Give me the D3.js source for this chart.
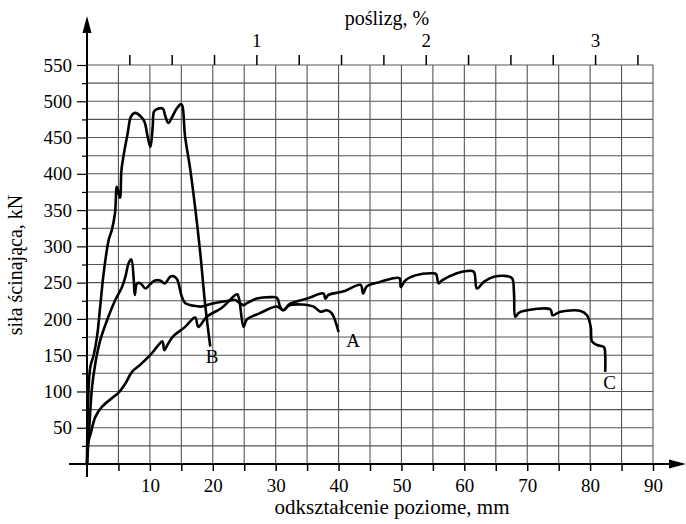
<!DOCTYPE html>
<html>
<head>
<meta charset="utf-8">
<script src="https://cdn.jsdelivr.net/npm/d3@7"></script>
<style>
  body { margin: 0; background: #fff; }
  text { font-family: "Liberation Serif", "Times New Roman", serif; fill: #000; }
</style>
</head>
<body>
<svg id="chart" width="686" height="524"></svg>
<script>
// curves: [odkształcenie mm, siła kN]
const curveA = [
  [0,0],[0.2,30],[0.53,40],[1.33,65],[2.4,79],[4.0,91],[5.0,98],[6.1,111],[7.16,127],
  [8.5,137],[9.8,148],[10.35,153],[11.35,164],[12.0,169],[12.3,157],[12.9,166],[13.7,176],
  [15.6,189],[17.2,202],[17.7,189],[19.05,203],[21.4,215],[23.6,233],[23.9,234],[24.2,227],
  [24.9,189],[25.4,199],[27.5,208],[30.2,217],[31.2,212],[32.3,219],[36,217],[37.1,210],
  [38.1,212],[38.9,208],[40,182]
];
const curveB = [
  [0,0],[0.16,84],[0.53,134],[1.06,150],[1.6,176],[2.1,217],[2.65,263],[3.45,309],[3.93,322],
  [4.46,346],[4.75,382],[5.25,367],[5.5,407],[6.47,456],[7.0,479],[7.64,484],[8.44,480],
  [9.12,472],[9.65,451],[10.08,437],[10.45,465],[10.66,486],[11.09,489],[12.05,490],[12.4,481],
  [12.94,470],[13.58,479],[14.27,490],[15.0,496],[15.6,451],[16.5,401],[17.9,300],[18.8,219],
  [19.6,162]
];
const curveC = [
  [0,0],[0.37,51],[0.8,106],[1.33,139],[2.12,171],[3.18,198],[4.5,226],[5.57,244],[6.1,258],
  [6.63,277],[7.05,282],[7.43,254],[7.6,233],[7.96,249],[8.5,249],[9.3,242],[10.05,248],
  [10.8,253],[11.6,253],[12.4,249],[13.2,258],[13.7,259],[14.3,255],[15.07,231],[15.6,222],
  [17,218],[18.25,217],[19.85,221],[22.5,225],[23.55,226],[24.3,222],[24.9,219],[25.5,222],
  [27,228],[29.1,230],[30.2,229],[30.7,217],[31.2,212],[32.3,221],[35,228],[37.6,235],
  [37.9,228],[38.4,233],[40.8,238],[43.5,247],[43.9,235],[44.5,245],[46.6,251],[48.75,256],
  [49.7,256],[49.9,244],[50.6,253],[52.2,260],[54.9,263],[55.5,262],[55.9,249],[56.45,253],
  [58.8,263],[60.4,266],[61.5,265],[62,242],[63.1,251],[64.7,258],[66.8,259],[67.6,256],
  [67.9,235],[68.1,203],[68.6,208],[69.4,211],[73.7,213],[74,205],[74.8,208],[75.3,210],
  [78.5,211],[79.5,205],[80.1,189],[80.3,169],[81.1,164],[82.2,161],[82.4,150],[82.4,127]
];
const curveNames = ["A", "B", "C"];
// label anchor points (mm, kN) for the curve letters
const namePos = [[42.3,161],[19.9,139],[83.1,103]];

const xTicks = d3.range(5, 91, 5);      // mm
const yTicks = d3.range(25, 551, 25);   // kN
const slipTicks = d3.range(0.25, 3.26, 0.25); // %
const mmPerPercent = 26.93;

const FONT = '"Liberation Serif", "Times New Roman", serif';

const svg = d3.select('#chart');

const x = d3.scaleLinear().domain([0, 90]).range([87, 653]);
const y = d3.scaleLinear().domain([0, 550]).range([464, 65]);
const xs = d3.scaleLinear().domain([0, 90 / mmPerPercent]).range([87, 653]);

svg.append('rect').attr('width', 686).attr('height', 524).attr('fill', '#fff');

// grid
const grid = svg.append('g').attr('stroke', '#555').attr('stroke-width', 1.1);
grid.selectAll('.vg').data(xTicks).enter().append('line')
    .attr('x1', d => x(d)).attr('x2', d => x(d))
    .attr('y1', y(550)).attr('y2', y(0));
grid.selectAll('.hg').data(yTicks).enter().append('line')
    .attr('x1', x(0)).attr('x2', x(90))
    .attr('y1', d => y(d)).attr('y2', d => y(d));

// bottom axis
const gx = svg.append('g')
    .attr('transform', 'translate(0,' + y(0) + ')')
    .call(d3.axisBottom(x).tickValues(xTicks).tickSize(7).tickPadding(8)
        .tickFormat(d => d % 10 === 0 ? d : ''));
gx.select('.domain').remove();
gx.attr('font-family', FONT).attr('font-size', 19);
gx.selectAll('line').attr('stroke', '#000').attr('stroke-width', 1.5);

// left axis
const gy = svg.append('g')
    .attr('transform', 'translate(' + x(0) + ',0)')
    .call(d3.axisLeft(y).tickValues(yTicks).tickSize(10).tickPadding(5)
        .tickFormat(d => d % 50 === 0 ? d : ''));
gy.select('.domain').remove();
gy.attr('font-family', FONT).attr('font-size', 19);
gy.selectAll('line').attr('stroke', '#000').attr('stroke-width', 1.2)
    .attr('x2', d => d % 50 === 0 ? -10 : -5);

// top axis (poślizg)
const gt = svg.append('g')
    .attr('transform', 'translate(0,' + y(550) + ')')
    .call(d3.axisTop(xs).tickValues(slipTicks).tickSize(10).tickPadding(8)
        .tickFormat(d => Number.isInteger(d) ? d : ''));
gt.select('.domain').remove();
gt.attr('font-family', FONT).attr('font-size', 19);
gt.selectAll('line').attr('stroke', '#000').attr('stroke-width', 1.5);

// axis lines with arrows
svg.append('line').attr('x1', x(0)).attr('x2', x(0)).attr('y1', y(0) + 13).attr('y2', 30)
    .attr('stroke', '#000').attr('stroke-width', 2);
svg.append('path').attr('d', 'M' + x(0) + ',16 L' + (x(0) - 4.5) + ',33 L' + (x(0) + 4.5) + ',33 Z')
    .attr('fill', '#000');
svg.append('line').attr('x1', 69).attr('x2', 676).attr('y1', y(0)).attr('y2', y(0))
    .attr('stroke', '#000').attr('stroke-width', 2);
svg.append('path').attr('d', 'M686,' + y(0) + ' L669,' + (y(0) - 4.5) + ' L669,' + (y(0) + 4.5) + ' Z')
    .attr('fill', '#000');

// curves
const line = d3.line()
    .x(d => x(d[0]))
    .y(d => y(d[1]))
    .curve(d3.curveCatmullRom.alpha(0.5));

[curveA, curveB, curveC].forEach(c => {
    svg.append('path').datum(c)
        .attr('d', line)
        .attr('fill', 'none')
        .attr('stroke', '#000')
        .attr('stroke-width', 2.6)
        .attr('stroke-linejoin', 'round');
});

svg.selectAll('.name').data(curveNames).enter().append('text')
    .attr('x', (d, i) => x(namePos[i][0]))
    .attr('y', (d, i) => y(namePos[i][1]))
    .attr('text-anchor', 'middle')
    .attr('font-family', FONT)
    .style('font-size', '19px')
    .text(d => d);

// titles
svg.append('text').text('poślizg, %')
    .attr('x', 387).attr('y', 25).attr('text-anchor', 'middle')
    .attr('font-family', FONT).style('font-size', '20px');
svg.append('text').text('odkształcenie poziome, mm')
    .attr('x', 392).attr('y', 514).attr('text-anchor', 'middle')
    .attr('font-family', FONT).style('font-size', '21px');
svg.append('text').text('siła ścinająca, kN')
    .attr('transform', 'translate(22,265) rotate(-90)')
    .attr('text-anchor', 'middle')
    .attr('font-family', FONT).style('font-size', '20px');
</script>
</body>
</html>
